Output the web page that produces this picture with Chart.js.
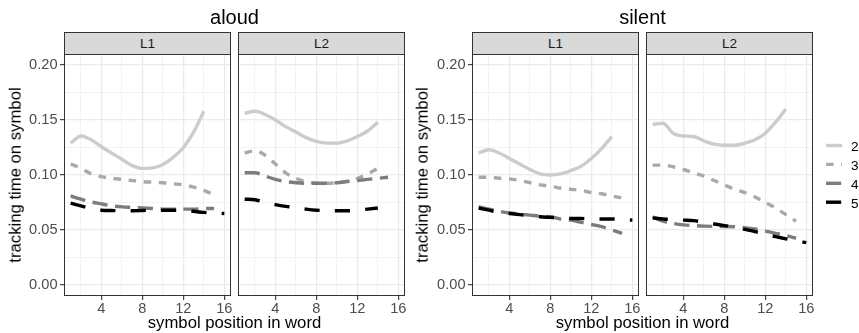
<!DOCTYPE html>
<html><head><meta charset="utf-8">
<script src="https://cdn.jsdelivr.net/npm/chart.js@4.4.1/dist/chart.umd.min.js"></script>
<style>
html,body{margin:0;padding:0;background:#fff;}
#wrap{position:relative;width:859px;height:333px;overflow:hidden;font-family:"Liberation Sans",Arial,Helvetica,sans-serif;}
canvas.fc{position:absolute;left:0;top:0;}
.strip{position:absolute;background:#D9D9D9;border:1px solid #333;box-sizing:border-box;color:#1A1A1A;font-size:13.6px;line-height:21px;text-align:center;}
.pborder{position:absolute;border:1px solid #333;box-sizing:border-box;pointer-events:none;}
.ttl{position:absolute;font-size:20px;line-height:20px;color:#000;white-space:nowrap;transform:translateX(-50%);}
.xlab{position:absolute;font-size:16.7px;line-height:16.7px;color:#000;white-space:nowrap;transform:translateX(-50%);}
.ylab{position:absolute;font-size:16.7px;line-height:16.7px;color:#000;white-space:nowrap;width:240px;text-align:center;transform:translate(-50%,-50%) rotate(-90deg);}
.leg{position:absolute;font-size:13.6px;line-height:13.6px;color:#000;}
</style></head>
<body><div id="wrap">
<canvas id="c1" class="fc" width="859" height="333"></canvas>
<canvas id="c2" class="fc" width="859" height="333"></canvas>
<canvas id="c3" class="fc" width="859" height="333"></canvas>
<canvas id="c4" class="fc" width="859" height="333"></canvas>
<canvas id="lg" style="position:absolute;left:820px;top:135px;" width="30" height="80"></canvas>
</div>
<script>
// ---------- data ----------
const SERIES = ["2", "3", "4", "5"];
const XPOS = [1,2,3,4,5,6,7,8,9,10,11,12,13,14,15,16];
const X_TICKS = [2,4,6,8,10,12,14,16];
const X_MAJOR = [4,8,12,16];
const Y_TICKS = [0,0.025,0.05,0.075,0.1,0.125,0.15,0.175,0.2];
const Y_MAJOR = [0,0.05,0.1,0.15,0.2];
const MODES = ["aloud", "silent"];
const FACETS = ["L1", "L2"];

// aloud / L1
const aloudL1_2 = [0.129,0.1355,0.132,0.1257,0.120,0.1143,0.1085,0.106,0.1065,0.1095,0.116,0.125,0.139,0.158];
const aloudL1_3 = [0.110,0.106,0.101,0.0985,0.097,0.096,0.095,0.094,0.0935,0.093,0.092,0.091,0.089,0.086,0.082];
const aloudL1_4 = [0.081,0.078,0.0755,0.0737,0.072,0.071,0.0705,0.070,0.0695,0.069,0.069,0.069,0.069,0.0695,0.0695];
const aloudL1_5 = [0.0744,0.072,0.0695,0.068,0.0677,0.0675,0.0675,0.0677,0.068,0.068,0.068,0.068,0.067,0.066,0.0655,0.065];
// aloud / L2
const aloudL2_2 = [0.156,0.158,0.155,0.150,0.144,0.139,0.134,0.1305,0.129,0.129,0.131,0.135,0.140,0.148];
const aloudL2_3 = [0.120,0.122,0.118,0.110,0.102,0.097,0.094,0.0925,0.0925,0.093,0.0945,0.097,0.101,0.106];
const aloudL2_4 = [0.102,0.102,0.099,0.096,0.094,0.093,0.0925,0.0925,0.0925,0.093,0.094,0.095,0.096,0.097,0.098];
const aloudL2_5 = [0.078,0.0775,0.075,0.073,0.0715,0.0705,0.069,0.068,0.0677,0.0675,0.0675,0.068,0.069,0.070];
// silent / L1
const silentL1_2 = [0.120,0.123,0.120,0.115,0.110,0.105,0.101,0.100,0.101,0.104,0.108,0.115,0.124,0.135];
const silentL1_3 = [0.098,0.098,0.097,0.0965,0.095,0.093,0.091,0.090,0.088,0.087,0.086,0.084,0.083,0.081,0.079];
const silentL1_4 = [0.071,0.069,0.067,0.0655,0.0645,0.0635,0.0625,0.062,0.060,0.059,0.057,0.055,0.053,0.050,0.047];
const silentL1_5 = [0.070,0.068,0.066,0.065,0.064,0.063,0.062,0.0615,0.061,0.0605,0.0605,0.060,0.060,0.060,0.0595,0.059];
// silent / L2
const silentL2_2 = [0.146,0.147,0.138,0.1355,0.135,0.131,0.128,0.127,0.127,0.129,0.132,0.138,0.148,0.160];
const silentL2_3 = [0.109,0.109,0.1075,0.105,0.102,0.099,0.095,0.091,0.087,0.084,0.080,0.075,0.070,0.064,0.058];
const silentL2_4 = [0.062,0.058,0.056,0.0547,0.054,0.0535,0.0533,0.0532,0.053,0.052,0.051,0.049,0.047,0.045,0.0425];
const silentL2_5 = [0.061,0.060,0.0595,0.059,0.0585,0.057,0.0555,0.054,0.0525,0.0505,0.0485,0.046,0.044,0.042,0.040,0.0385];

// ---------- style ----------
const COLORS = ["#CCCCCC", "#A9A9A9", "#7C7C7C", "#000000"];
const DASHES = [[], [7.6,7.6], [15.2,7.6], [15.2,15.2]];
const LW = 3.4;
const FONT = '"Liberation Sans", Arial, Helvetica, sans-serif';
const TICK_SIZE = 14.6;
const W = 859, H = 333, PT = 54, PB = 296, XH = 22;
const XMIN = 0.35, XMAX = 16.65, YMIN = -0.01, YMAX = 0.21;
const PANELS = [
  {id:"c1", left:64,  right:231, showY:true,  data:[aloudL1_2,aloudL1_3,aloudL1_4,aloudL1_5], strip:FACETS[0]},
  {id:"c2", left:238, right:405, showY:false, data:[aloudL2_2,aloudL2_3,aloudL2_4,aloudL2_5], strip:FACETS[1]},
  {id:"c3", left:472, right:639, showY:true,  data:[silentL1_2,silentL1_3,silentL1_4,silentL1_5], strip:FACETS[0]},
  {id:"c4", left:646, right:813, showY:false, data:[silentL2_2,silentL2_3,silentL2_4,silentL2_5], strip:FACETS[1]}
];
const near = (v, arr) => arr.some(a => Math.abs(a - v) < 1e-9);

const wrap = document.getElementById('wrap');
function addDiv(cls, text, css) {
  const d = document.createElement('div');
  d.className = cls; d.textContent = text;
  Object.assign(d.style, css); wrap.appendChild(d); return d;
}

PANELS.forEach(p => {
  const yW = p.showY ? 46 : 0;
  new Chart(document.getElementById(p.id), {
    type: 'line',
    data: {
      datasets: SERIES.map((s, i) => ({
        label: s,
        data: p.data[i].map((v, j) => ({x: XPOS[j], y: v})),
        borderColor: COLORS[i], borderWidth: LW, borderDash: DASHES[i],
        borderCapStyle: 'butt', borderJoinStyle: 'round',
        pointRadius: 0, cubicInterpolationMode: 'monotone', fill: false, order: 4 - i
      }))
    },
    options: {
      responsive: false, animation: false, devicePixelRatio: 1,
      layout: {padding: {left: p.left - yW, right: W - p.right, top: PT, bottom: H - PB - XH}},
      plugins: {legend: {display: false}, tooltip: {enabled: false}, title: {display: false}},
      scales: {
        x: {
          type: 'linear', min: XMIN, max: XMAX,
          afterBuildTicks: s => { s.ticks = X_TICKS.map(v => ({value: v})); },
          afterFit: s => { s.height = XH; },
          border: {display: false},
          grid: {
            color: '#EBEBEB',
            lineWidth: c => near(c.tick.value, X_MAJOR) ? 1.3 : 0.6,
            drawTicks: true, tickLength: 4, tickWidth: 1.1,
            tickColor: c => near(c.tick.value, X_MAJOR) ? '#333333' : 'rgba(0,0,0,0)'
          },
          ticks: {
            autoSkip: false, maxRotation: 0, padding: 0,
            color: '#4D4D4D', font: {family: FONT, size: TICK_SIZE},
            callback: v => near(v, X_MAJOR) ? String(v) : ''
          }
        },
        y: {
          type: 'linear', min: YMIN, max: YMAX,
          afterBuildTicks: s => { s.ticks = Y_TICKS.map(v => ({value: v})); },
          afterFit: s => { s.width = yW; },
          border: {display: false},
          grid: {
            color: '#EBEBEB',
            lineWidth: c => near(c.tick.value, Y_MAJOR) ? 1.3 : 0.6,
            drawTicks: p.showY, tickLength: 4, tickWidth: 1.1,
            tickColor: c => near(c.tick.value, Y_MAJOR) ? '#333333' : 'rgba(0,0,0,0)'
          },
          ticks: {
            display: p.showY, autoSkip: false, padding: 2.5,
            color: '#4D4D4D', font: {family: FONT, size: TICK_SIZE},
            callback: v => near(v, Y_MAJOR) ? v.toFixed(2) : ''
          }
        }
      }
    }
  });
  addDiv('pborder', '', {left: p.left + 'px', top: PT + 'px', width: (p.right - p.left) + 'px', height: (PB - PT) + 'px'});
  addDiv('strip', p.strip, {left: p.left + 'px', top: '32px', width: (p.right - p.left) + 'px', height: '23px'});
});

// titles and axis titles
const centers = [(64 + 405) / 2, (472 + 813) / 2];
MODES.forEach((m, i) => {
  addDiv('ttl', m, {left: centers[i] + 'px', top: '7px'});
  addDiv('xlab', 'symbol position in word', {left: centers[i] + 'px', top: '314.5px'});
});
addDiv('ylab', 'tracking time on symbol', {left: '16px', top: '175px'});
addDiv('ylab', 'tracking time on symbol', {left: '423px', top: '175px'});

// legend
const lg = document.getElementById('lg').getContext('2d');
const KEY_Y = [145.5, 164.4, 183.3, 202.2];
SERIES.forEach((s, i) => {
  const y = KEY_Y[i] - 135;
  lg.save();
  lg.strokeStyle = COLORS[i]; lg.lineWidth = LW; lg.lineCap = 'butt';
  lg.setLineDash(DASHES[i]);
  lg.beginPath(); lg.moveTo(6, y); lg.lineTo(22, y); lg.stroke();
  lg.restore();
  addDiv('leg', s, {left: '851px', top: (KEY_Y[i] - 5.5) + 'px'});
});
</script>
</body></html>
